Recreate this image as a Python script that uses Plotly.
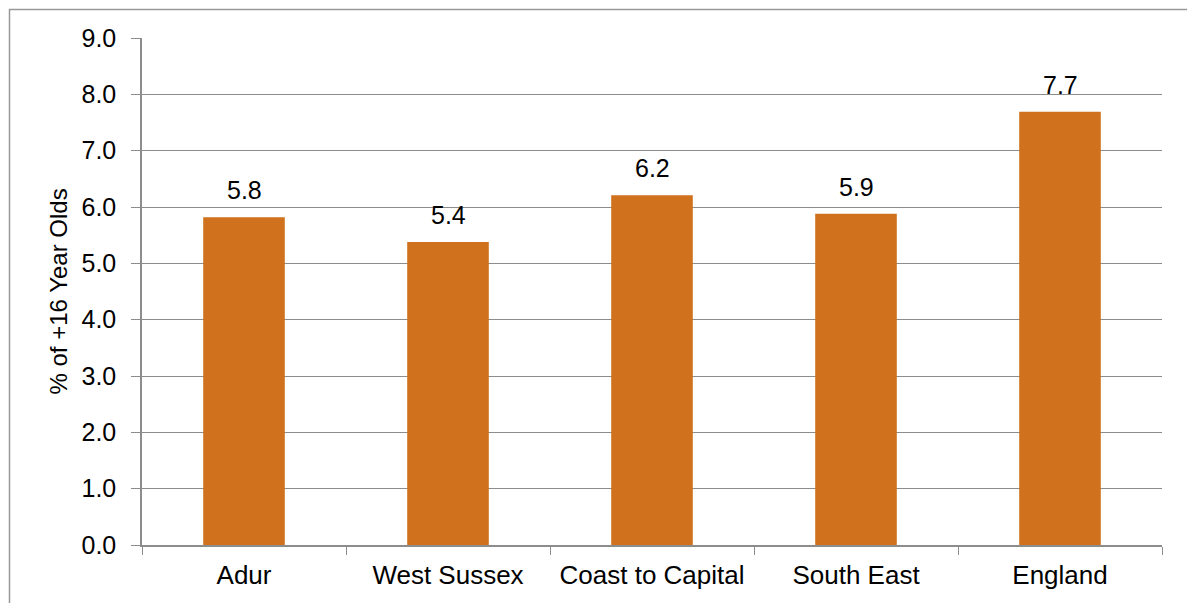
import plotly.graph_objects as go

categories = ["Adur", "West Sussex", "Coast to Capital", "South East", "England"]
values = [5.82, 5.38, 6.21, 5.88, 7.69]
labels = ["5.8", "5.4", "6.2", "5.9", "7.7"]
y_ticks = [0, 1, 2, 3, 4, 5, 6, 7, 8, 9]

W, H = 1184, 595
L, T = 134, 30
pw, ph = 1020, 507
R = W - L - pw
B = H - T - ph

FONT = "Liberation Sans, Arial, sans-serif"
GRID = "#8c8c8c"

fig = go.Figure()
fig.add_trace(go.Bar(x=categories, y=values, marker_color="#D0711E",
                     marker_line_width=0, width=0.4, hoverinfo="skip"))

for c, v, t in zip(categories, values, labels):
    fig.add_annotation(x=c, y=v, text=t, showarrow=False, yanchor="bottom",
                       yshift=11, font=dict(size=25, color="black", family=FONT))

fig.add_annotation(xref="paper", yref="paper", x=(50 - L) / pw, y=0.5,
                   text="% of +16 Year Olds", textangle=-90, showarrow=False,
                   xanchor="center", yanchor="middle",
                   font=dict(size=24, color="black", family=FONT))

# outer chart border
fig.add_shape(type="rect", xref="paper", yref="paper",
              x0=(1.5 - L) / pw, x1=(1182.5 - L) / pw,
              y0=-(B + 10) / ph, y1=(H - B - 1.5) / ph,
              line=dict(color="#999999", width=1.5), fillcolor="rgba(0,0,0,0)", layer="below")

fig.update_layout(
    width=W, height=H,
    margin=dict(l=L, r=R, t=T, b=B),
    plot_bgcolor="white", paper_bgcolor="white",
    showlegend=False,
    font=dict(family=FONT, size=25, color="black"),
    xaxis=dict(type="category", tickson="boundaries", ticks="outside", ticklen=8,
               tickcolor=GRID, showline=True, linecolor=GRID, linewidth=1.5,
               showgrid=False, tickfont=dict(size=26), ticklabelstandoff=6),
    yaxis=dict(range=[0, 9], tickvals=y_ticks, ticktext=[f"{v:.1f}" for v in y_ticks],
               ticks="outside", ticklen=9, tickcolor=GRID, showline=True,
               linecolor=GRID, linewidth=1.5, showgrid=True, gridcolor=GRID,
               gridwidth=1, zeroline=False, tickfont=dict(size=25), ticklabelstandoff=10),
)

fig.write_html("out.html")
